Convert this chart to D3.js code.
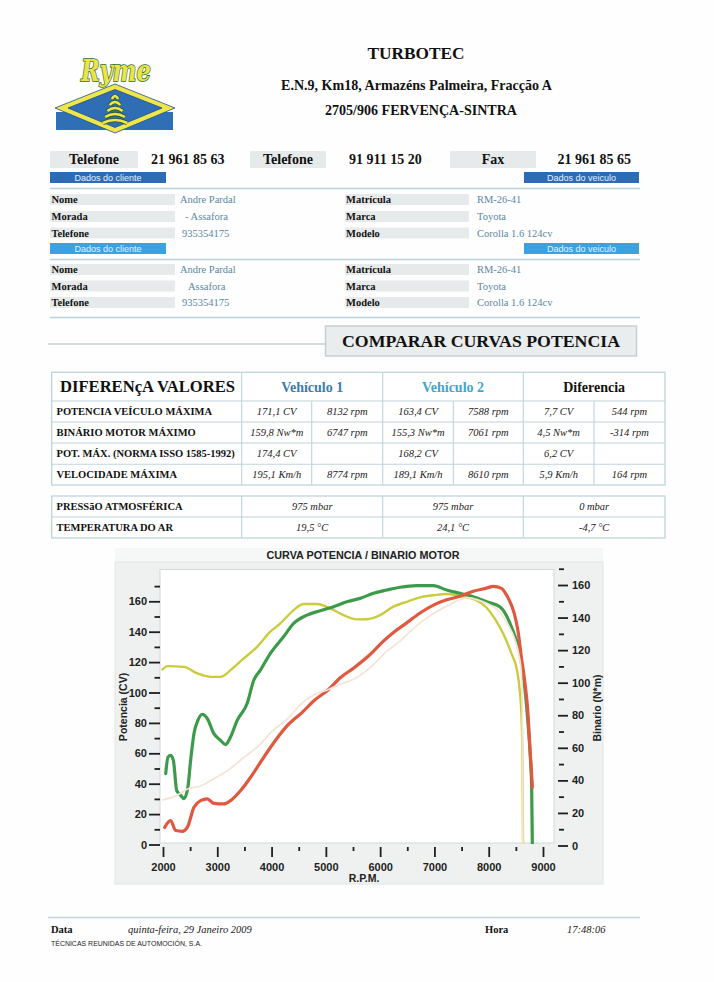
<!DOCTYPE html>
<html><head><meta charset="utf-8">
<script src="https://cdn.jsdelivr.net/npm/d3@7"></script>
<style>
html,body{margin:0;padding:0;background:#ffffff;}
svg{display:block;}
</style></head><body>
<svg id="page" width="714" height="982"></svg>
<script>
// ---------------- DATA ----------------
const companyLines = ["TURBOTEC", "E.N.9, Km18, Armazéns Palmeira, Fracção A", "2705/906 FERVENÇA-SINTRA"];
const contactLabels = ["Telefone", "Telefone", "Fax"];
const contactNumbers = ["21 961 85 63", "91 911 15 20", "21 961 85 65"];
const clientLabels = ["Nome", "Morada", "Telefone"];
const clientValues1 = ["Andre Pardal", "- Assafora", "935354175"];
const clientValues2 = ["Andre Pardal", "Assafora", "935354175"];
const vehicleLabels = ["Matrícula", "Marca", "Modelo"];
const vehicleValues = ["RM-26-41", "Toyota", "Corolla 1.6 124cv"];
const diffHeaders = ["DIFERENçA VALORES", "Vehículo 1", "Vehículo 2", "Diferencia"];
const diffRowLabels = ["POTENCIA VEÍCULO MÁXIMA", "BINÁRIO MOTOR MÁXIMO", "POT. MÁX. (NORMA ISSO 1585-1992)", "VELOCIDADE MÁXIMA"];
const diffRowValues = [
  ["171,1 CV", "8132 rpm", "163,4 CV", "7588 rpm", "7,7 CV", "544 rpm"],
  ["159,8 Nw*m", "6747 rpm", "155,3 Nw*m", "7061 rpm", "4,5 Nw*m", "-314 rpm"],
  ["174,4 CV", "", "168,2 CV", "", "6,2 CV", ""],
  ["195,1 Km/h", "8774 rpm", "189,1 Km/h", "8610 rpm", "5,9 Km/h", "164 rpm"]
];
const envLabels = ["PRESSãO ATMOSFÉRICA", "TEMPERATURA DO AR"];
const envValues = [["975 mbar", "975 mbar", "0 mbar"], ["19,5 °C", "24,1 °C", "-4,7 °C"]];
const footerValues = ["Data", "quinta-feira, 29 Janeiro 2009", "Hora", "17:48:06", "TÉCNICAS REUNIDAS DE AUTOMOCIÓN, S.A."];

const chartTitle = "CURVA POTENCIA / BINARIO MOTOR";
const rpmTicks = d3.range(2000, 9001, 500);
const leftTicks = d3.range(0, 171, 10);
const rightTicks = d3.range(0, 171, 10);

// Vehicle 1 power (CV, left axis) - red
const v1PowerCV = [[2031,11.3],[2141,15.7],[2233,9.2],[2356,8.7],[2448,11.3],[2570,24.5],[2693,28.9],[2815,30],[2937,27.1],[3120,26.7],[3244,28.9],[3427,35.4],[3611,44.1],[3794,54],[3978,63.8],[4285,78],[4560,86.8],[4775,94.4],[5050,102],[5265,109.7],[5509,116],[5815,125],[6060,133.8],[6245,139.5],[6490,145.8],[6735,152.3],[7000,157.8],[7225,161],[7470,163.3],[7715,166.6],[7960,168.7],[8081,169.8],[8235,168.5],[8330,164],[8388,160],[8470,152],[8540,140.3],[8603,122.8],[8663,107.5],[8724,85.9],[8755,66.2],[8786,48.5],[8804,37.6]];
// Vehicle 2 power (CV, left axis) - light peach
const v2PowerCV = [[1995,29.3],[2263,32.5],[2448,36.5],[2692,38.5],[2876,42],[3183,48.5],[3488,57.2],[3794,66],[3978,73.5],[4285,82.4],[4560,93],[4775,98.4],[5050,102],[5265,105.4],[5509,108.7],[5815,116.3],[6122,127.2],[6367,133.8],[6490,138.1],[6735,145.8],[7000,152.3],[7225,156.7],[7470,161],[7600,162.4],[7800,161],[8000,158],[8200,153],[8350,145],[8480,135],[8560,124],[8600,113],[8618,90],[8628,0]];
// Vehicle 1 torque (N*m, right axis) - green
const v1TorqueNm = [[2050,44.1],[2092,54.3],[2141,55.4],[2191,52.3],[2252,33.8],[2325,30.8],[2386,28.7],[2459,35.9],[2509,52.3],[2570,68.7],[2643,76.9],[2724,80.6],[2815,78],[2937,68.7],[3060,64.6],[3152,62],[3244,66.6],[3367,76.9],[3550,87.2],[3672,101.5],[3794,107.7],[3978,118],[4220,128.2],[4407,136.4],[4652,141.5],[4897,144.2],[5142,146.7],[5386,149.7],[5631,151.8],[5876,154.9],[6122,156.9],[6367,158.6],[6673,159.6],[6980,159.6],[7225,156.9],[7470,154.9],[7715,152.8],[7960,149.7],[8205,146.6],[8418,134.3],[8571,118],[8663,97.4],[8724,74.9],[8767,54.3],[8791,35.9],[8804,0]];
// Vehicle 2 torque (N*m, right axis) - yellow
const v2TorqueNm = [[1990,108.1],[2081,110.2],[2386,109.7],[2632,105.7],[2876,103.6],[3060,103.6],[3244,107.7],[3488,114.9],[3734,122],[3978,131.3],[4162,136.4],[4407,144.6],[4590,148.3],[4835,148.3],[5080,145.6],[5325,141.5],[5570,138.9],[5754,139],[6000,141.5],[6245,146.7],[6490,149.7],[6735,152.4],[7000,153.8],[7225,154.5],[7470,153.2],[7750,151],[7950,146.5],[8100,140],[8264,130.3],[8418,118],[8521,107.7],[8571,95.4],[8602,81],[8620,56.6],[8632,0]];

// ---------------- DRAWING ----------------
const SERIF = '"Liberation Serif","Times New Roman",serif';
const SANS = '"Liberation Sans",Arial,sans-serif';
const svg = d3.select("#page");
svg.append("rect").attr("width", 714).attr("height", 982).attr("fill", "#fefefe");

function txt(x, y, s, o = {}) {
  const t = svg.append("text").attr("x", x).attr("y", y).text(s)
    .attr("font-family", o.family || SERIF)
    .attr("font-size", o.size || 10.5)
    .attr("font-weight", o.bold ? "bold" : "normal")
    .attr("font-style", o.italic ? "italic" : "normal")
    .attr("fill", o.fill || "#111")
    .attr("text-anchor", o.anchor || "start");
  if (o.len) t.attr("textLength", o.len).attr("lengthAdjust", "spacingAndGlyphs");
  return t;
}

// ---- Logo ----
const logo = svg.append("g");
logo.append("rect").attr("x", 56).attr("y", 112).attr("width", 117).attr("height", 18).attr("fill", "#2f6fb6");
logo.append("polygon").attr("points", "115,84 55,108 115,133 175,108").attr("fill", "#efe64c").attr("stroke", "#1f4f8a").attr("stroke-width", 0.8);
logo.append("polygon").attr("points", "115,89.5 68,108 115,127.5 162,108").attr("fill", "#2f6db5").attr("stroke", "#1f4f8a").attr("stroke-width", 0.8);
for (let i = 0; i < 5; i++) {
  const y = 96 + i * 6, hw = 3 + i * 2.3;
  const d = `M${115 - hw},${y + 3} Q115,${y - 3} ${115 + hw},${y + 3}`;
  logo.append("path").attr("d", d).attr("fill", "none").attr("stroke", "#2b5a2a").attr("stroke-width", 4.2);
  logo.append("path").attr("d", d).attr("fill", "none").attr("stroke", "#eee64a").attr("stroke-width", 2.6);
}
logo.append("text").attr("x", 81).attr("y", 81).text("Ryme")
  .attr("font-family", '"DejaVu Serif",serif').attr("font-weight", "bold").attr("font-style", "italic")
  .attr("font-size", 30).attr("textLength", 70).attr("lengthAdjust", "spacingAndGlyphs")
  .attr("fill", "#e9e44a").attr("stroke", "#2f6a2c").attr("stroke-width", 1.6)
  .attr("paint-order", "stroke");

// ---- Company header ----
txt(416, 59, companyLines[0], { size: 17.5, bold: true, anchor: "middle", len: 97 });
txt(416.5, 90, companyLines[1], { size: 14, bold: true, anchor: "middle", len: 271 });
txt(421, 115, companyLines[2], { size: 14, bold: true, anchor: "middle", len: 192 });

// ---- Contacts ----
const contactBoxes = [[50, 138], [250, 326], [450, 536]];
const contactNumX = [151, 349, 557.5];
contactBoxes.forEach((b, i) => {
  svg.append("rect").attr("x", b[0]).attr("y", 151).attr("width", b[1] - b[0]).attr("height", 17).attr("fill", "#e7eaea");
  txt((b[0] + b[1]) / 2, 164, contactLabels[i], { size: 14, bold: true, anchor: "middle" });
  txt(contactNumX[i], 164, contactNumbers[i], { size: 14, bold: true });
});

// ---- Client / vehicle blocks ----
function bars(y, color) {
  [[50, 166, "Dados do cliente"], [524, 639, "Dados do veiculo"]].forEach(b => {
    svg.append("rect").attr("x", b[0]).attr("y", y).attr("width", b[1] - b[0]).attr("height", 11).attr("fill", color);
    txt((b[0] + b[1]) / 2, y + 8.6, b[2], { family: SANS, size: 9, fill: "#e8f0fa", anchor: "middle" });
  });
}
function hline(y, x1, x2, c, w) {
  svg.append("line").attr("x1", x1).attr("x2", x2).attr("y1", y).attr("y2", y).attr("stroke", c).attr("stroke-width", w);
}
function block(rowYs, values) {
  rowYs.forEach((cy, i) => {
    svg.append("rect").attr("x", 50).attr("y", cy - 5.5).attr("width", 125).attr("height", 11).attr("fill", "#e7eaea");
    svg.append("rect").attr("x", 345).attr("y", cy - 5.5).attr("width", 124).attr("height", 11).attr("fill", "#e7eaea");
    txt(51.5, cy + 3.6, clientLabels[i], { size: 10.5, bold: true });
    txt(346, cy + 3.6, vehicleLabels[i], { size: 10.5, bold: true });
    txt(values.x[i], cy + 3.6, values.v[i], { size: 10.5, fill: "#5b87a4" });
    txt(477, cy + 3.6, vehicleValues[i], { size: 10.5, fill: "#5b87a4" });
  });
}
bars(172, "#2d6bb7");
hline(188.5, 50, 640, "#bcd3dc", 1.5);
block([199.5, 216.5, 233], { x: [180, 185, 182], v: clientValues1 });
bars(243, "#3ba2e2");
hline(259.5, 50, 640, "#bcd3dc", 1.5);
block([269.5, 286, 302.5], { x: [180, 188, 182], v: clientValues2 });
hline(317.5, 50, 640, "#bcd3dc", 1.5);

// ---- Compare title ----
hline(344, 48, 325, "#c9d1d1", 1.5);
svg.append("rect").attr("x", 325.5).attr("y", 326).attr("width", 311).attr("height", 30).attr("fill", "#e9eded").attr("stroke", "#c6cfcf").attr("stroke-width", 1.5);
txt(481, 347, "COMPARAR CURVAS POTENCIA", { size: 17.5, bold: true, anchor: "middle", len: 278 });

// ---- Difference table ----
const TC = "#bfd4da";
const colX = [51.7, 241.7, 311.7, 382.7, 453.3, 523.3, 594, 665];
const rowY = [372.3, 401, 422, 443, 464.3, 485];
svg.append("rect").attr("x", colX[0]).attr("y", rowY[0]).attr("width", colX[7] - colX[0]).attr("height", rowY[5] - rowY[0]).attr("fill", "#fff").attr("stroke", TC).attr("stroke-width", 1.3);
rowY.slice(1, 5).forEach(y => hline(y, colX[0], colX[7], TC, 1.1));
[1, 3, 5].forEach(i => svg.append("line").attr("x1", colX[i]).attr("x2", colX[i]).attr("y1", rowY[0]).attr("y2", rowY[5]).attr("stroke", TC).attr("stroke-width", 1.1));
[2, 4, 6].forEach(i => svg.append("line").attr("x1", colX[i]).attr("x2", colX[i]).attr("y1", rowY[1]).attr("y2", rowY[5]).attr("stroke", TC).attr("stroke-width", 1.1));
txt(60, 392.3, diffHeaders[0], { size: 16.5, bold: true, len: 175 });
txt((colX[1] + colX[3]) / 2, 391.5, diffHeaders[1], { size: 14, bold: true, anchor: "middle", fill: "#3b7db2" });
txt((colX[3] + colX[5]) / 2, 391.5, diffHeaders[2], { size: 14, bold: true, anchor: "middle", fill: "#42a5ca" });
txt((colX[5] + colX[7]) / 2, 391.5, diffHeaders[3], { size: 14, bold: true, anchor: "middle" });
diffRowLabels.forEach((lab, r) => {
  const cy = (rowY[r + 1] + rowY[r + 2]) / 2;
  txt(56.5, cy + 3.6, lab, { size: 10.5, bold: true });
  diffRowValues[r].forEach((v, c) => {
    txt((colX[c + 1] + colX[c + 2]) / 2, cy + 3.6, v, { size: 10.5, italic: true, anchor: "middle", fill: "#222" });
  });
});

// ---- Environment table ----
const envColX = [51.7, 241.7, 382.7, 523.3, 665];
const envRowY = [496, 517, 538];
svg.append("rect").attr("x", envColX[0]).attr("y", envRowY[0]).attr("width", envColX[4] - envColX[0]).attr("height", envRowY[2] - envRowY[0]).attr("fill", "#fff").attr("stroke", TC).attr("stroke-width", 1.3);
hline(envRowY[1], envColX[0], envColX[4], TC, 1.1);
[1, 2, 3].forEach(i => svg.append("line").attr("x1", envColX[i]).attr("x2", envColX[i]).attr("y1", envRowY[0]).attr("y2", envRowY[2]).attr("stroke", TC).attr("stroke-width", 1.1));
envLabels.forEach((lab, r) => {
  const cy = (envRowY[r] + envRowY[r + 1]) / 2;
  txt(56.5, cy + 3.6, lab, { size: 10.5, bold: true });
  envValues[r].forEach((v, c) => txt((envColX[c + 1] + envColX[c + 2]) / 2, cy + 3.6, v, { size: 10.5, italic: true, anchor: "middle", fill: "#222" }));
});

// ---- Chart ----
svg.append("rect").attr("x", 115).attr("y", 548).attr("width", 488).attr("height", 14).attr("fill", "#f6f8f7");
svg.append("rect").attr("x", 115).attr("y", 562).attr("width", 488).attr("height", 322).attr("fill", "#eef1f0").attr("stroke", "#e0e5e4").attr("stroke-width", 1);
txt(363, 559, chartTitle, { family: SANS, size: 11, bold: true, anchor: "middle", len: 193, fill: "#222" });

const plot = { x: 160, y: 569.5, w: 394, h: 273.5 };
svg.append("rect").attr("x", plot.x).attr("y", plot.y).attr("width", plot.w).attr("height", plot.h).attr("fill", "#fff").attr("stroke", "#d3d8d8").attr("stroke-width", 1);
svg.append("clipPath").attr("id", "plotclip").append("rect").attr("x", plot.x).attr("y", plot.y).attr("width", plot.w).attr("height", plot.h + 1);

const x = d3.scaleLinear().domain([2000, 9000]).range([163, 543]);
const yL = d3.scaleLinear().domain([0, 160]).range([844.5, 601.3]);
const yR = d3.scaleLinear().domain([0, 160]).range([845.5, 585]);

function styleAxis(g) {
  g.select(".domain").remove();
  g.selectAll("line").attr("stroke", "#1e1e1e").attr("stroke-width", 1.8);
  g.selectAll("text").attr("font-family", SANS).attr("font-weight", "bold").attr("font-size", 11).attr("fill", "#1e1e1e");
}
const gL = svg.append("g").attr("transform", "translate(160,0)")
  .call(d3.axisLeft(yL).tickValues(leftTicks).tickSize(11).tickPadding(2).tickFormat(d => d % 20 === 0 ? d : ""));
gL.selectAll(".tick").filter(d => d % 20 !== 0).select("line").attr("x2", -5.5);
styleAxis(gL);
const gR = svg.append("g").attr("transform", "translate(558,0)")
  .call(d3.axisRight(yR).tickValues(rightTicks).tickSize(10).tickPadding(4).tickFormat(d => d % 20 === 0 ? d : ""));
gR.selectAll(".tick").filter(d => d % 20 !== 0).select("line").attr("x1", 1).attr("x2", 6);
styleAxis(gR);
const gX = svg.append("g").attr("transform", "translate(0,847)")
  .call(d3.axisBottom(x).tickValues(rpmTicks).tickSize(10).tickPadding(6).tickFormat(d => d % 1000 === 0 ? d : ""));
gX.selectAll(".tick").filter(d => d % 1000 !== 0).select("line").attr("y2", 4);
styleAxis(gX);

txt(364, 882, "R.P.M.", { family: SANS, size: 10.5, bold: true, anchor: "middle", fill: "#222" });
svg.append("text").attr("transform", "translate(127,707) rotate(-90)").text("Potencia (CV)")
  .attr("font-family", SANS).attr("font-weight", "bold").attr("font-size", 10.5).attr("fill", "#222").attr("text-anchor", "middle");
svg.append("text").attr("transform", "translate(601,708) rotate(-90)").text("Binario (N*m)")
  .attr("font-family", SANS).attr("font-weight", "bold").attr("font-size", 10.5).attr("fill", "#222").attr("text-anchor", "middle");

const lines = svg.append("g").attr("clip-path", "url(#plotclip)");
const lineL = d3.line().x(d => x(d[0])).y(d => yL(d[1])).curve(d3.curveMonotoneX);
const lineR = d3.line().x(d => x(d[0])).y(d => yR(d[1])).curve(d3.curveMonotoneX);
const series = [
  { data: v2TorqueNm, gen: lineR, color: "#cbcb3e", w: 2.4 },
  { data: v1TorqueNm, gen: lineR, color: "#3c9b4a", w: 3.2 },
  { data: v1PowerCV, gen: lineL, color: "#e0583e", w: 3.2 },
  { data: v2PowerCV, gen: lineL, color: "#f5e5d8", w: 1.8 }
];
series.forEach(s => lines.append("path").datum(s.data).attr("d", s.gen).attr("fill", "none")
  .attr("stroke", s.color).attr("stroke-width", s.w).attr("stroke-linejoin", "round").attr("stroke-linecap", "round"));

// ---- Footer ----
hline(917.5, 48, 640, "#c3d3da", 1.3);
txt(51, 933, footerValues[0], { size: 10.5, bold: true });
txt(128, 933, footerValues[1], { size: 10.5, italic: true, fill: "#222" });
txt(485, 933, footerValues[2], { size: 10.5, bold: true });
txt(567, 933, footerValues[3], { size: 10.5, italic: true, fill: "#222" });
txt(51, 945.5, footerValues[4], { family: SANS, size: 6.8, fill: "#222", len: 151 });
</script>
</body></html>
